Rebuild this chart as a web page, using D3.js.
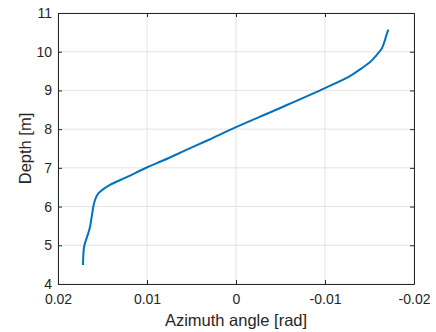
<!DOCTYPE html>
<html>
<head>
<meta charset="utf-8">
<script src="https://cdn.jsdelivr.net/npm/d3@7"></script>
<style>
body { margin: 0; background: #fff; }
text { font-family: "Liberation Sans", Arial, sans-serif; fill: #262626; }
</style>
</head>
<body>
<div id="chart"></div>
<script>
// depth [m] vs azimuth angle [rad]
var depth =   [4.49, 4.71, 4.95, 5.14, 5.31, 5.48, 5.74, 6.00, 6.17, 6.34, 6.45, 6.56, 6.76, 7.01, 7.19, 7.45, 7.72, 8.05, 8.50, 9.06, 9.37, 9.57, 9.74, 9.86, 9.97, 10.09, 10.26, 10.43, 10.57];
var azimuth = [0.01719, 0.01716, 0.01708, 0.01685, 0.0166, 0.0164, 0.01621, 0.01603, 0.01584, 0.01547, 0.01491, 0.01416, 0.01228, 0.01003, 0.0082, 0.0057, 0.0031, 0.0, -0.0045, -0.0100, -0.0128, -0.0141, -0.0151, -0.0156, -0.0160, -0.0164, -0.01668, -0.0169, -0.01712];
var xTicks = [0.02, 0.01, 0, -0.01, -0.02];
var yTicks = [4, 5, 6, 7, 8, 9, 10, 11];

var width = 436, height = 332;
var margin = {top: 13, right: 22, bottom: 48, left: 58};
var w = width - margin.left - margin.right;
var h = height - margin.top - margin.bottom;

var svg = d3.select("#chart").append("svg")
    .attr("width", width)
    .attr("height", height);

var g = svg.append("g")
    .attr("transform", "translate(" + margin.left + "," + margin.top + ")");

var x = d3.scaleLinear().domain([0.02, -0.02]).range([0, w]);
var y = d3.scaleLinear().domain([4, 11]).range([h, 0]);

// grid
g.selectAll(".gx").data(xTicks).enter().append("line")
    .attr("x1", function(d) { return x(d); })
    .attr("x2", function(d) { return x(d); })
    .attr("y1", 0).attr("y2", h)
    .style("stroke", "#e3e3e3");
g.selectAll(".gy").data(yTicks).enter().append("line")
    .attr("y1", function(d) { return y(d); })
    .attr("y2", function(d) { return y(d); })
    .attr("x1", 0).attr("x2", w)
    .style("stroke", "#e3e3e3");

// curve
var pts = depth.map(function(d, i) { return [azimuth[i], d]; });
var line = d3.line()
    .x(function(d) { return x(d[0]); })
    .y(function(d) { return y(d[1]); })
    .curve(d3.curveCatmullRom);
g.append("path")
    .datum(pts)
    .attr("d", line)
    .style("fill", "none")
    .style("stroke", "#0072BD")
    .style("stroke-width", 2);

// axes (ticks inward, box on all sides)
function fmt(d) { return d === 0 ? "0" : String(d); }
var tl = 4;
var ax = [
  {a: d3.axisBottom(x).tickValues(xTicks).tickFormat(fmt).tickSizeInner(-tl).tickSizeOuter(0).tickPadding(10), t: "translate(0," + h + ")"},
  {a: d3.axisTop(x).tickValues(xTicks).tickFormat("").tickSizeInner(-tl).tickSizeOuter(0), t: "translate(0,0)"},
  {a: d3.axisLeft(y).tickValues(yTicks).tickFormat(d3.format("d")).tickSizeInner(-tl).tickSizeOuter(0).tickPadding(6), t: "translate(0,0)"},
  {a: d3.axisRight(y).tickValues(yTicks).tickFormat("").tickSizeInner(-tl).tickSizeOuter(0), t: "translate(" + w + ",0)"}
];
ax.forEach(function(o) {
  var s = g.append("g").attr("transform", o.t).call(o.a);
  s.select(".domain").style("stroke", "#262626");
  s.selectAll(".tick line").style("stroke", "#262626");
  s.selectAll("text").style("font-size", "14px").style("fill", "#262626")
    .style("font-family", "Liberation Sans, Arial, sans-serif");
});

// labels
svg.append("text")
    .attr("x", margin.left + w / 2)
    .attr("y", 326)
    .attr("text-anchor", "middle")
    .style("font-size", "16.5px")
    .text("Azimuth angle [rad]");
svg.append("text")
    .attr("transform", "translate(31," + (margin.top + h / 2) + ") rotate(-90)")
    .attr("text-anchor", "middle")
    .style("font-size", "16.5px")
    .text("Depth [m]");
</script>
</body>
</html>
